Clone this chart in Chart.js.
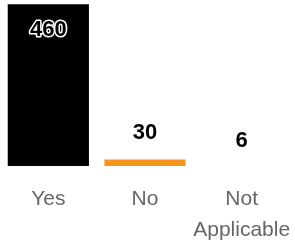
<!DOCTYPE html>
<html>
<head>
<meta charset="utf-8">
<script src="https://cdn.jsdelivr.net/npm/chart.js@4/dist/chart.umd.min.js"></script>
<style>
  html, body { margin: 0; padding: 0; background: #fff; }
  #wrap { width: 295px; height: 241px; }
</style>
</head>
<body>
<div id="wrap"><canvas id="answersChart"></canvas></div>
<script>
const categories = ["Yes", "No", ["Not", "Applicable"]];
const answerCounts = [460, 30, 6];
const barColors = ["#000000", "#f7941d", "#a6a6a6"];

// value labels drawn on top of / inside the bars
const valueLabels = {
    id: "valueLabels",
    afterDatasetsDraw(chart) {
        const ctx = chart.ctx;
        const area = chart.chartArea;
        const meta = chart.getDatasetMeta(0);
        const maxVal = Math.max(...answerCounts);
        ctx.save();
        ctx.font = "bold 22px 'Liberation Sans', Arial, sans-serif";
        ctx.textAlign = "center";
        ctx.textBaseline = "middle";
        meta.data.forEach((bar, i) => {
            const val = answerCounts[i];
            const top = Math.min(bar.y, area.bottom);
            if (val === maxVal) {
                const y = top + 26;
                ctx.lineWidth = 3;
                ctx.lineJoin = "round";
                ctx.strokeStyle = "#ffffff";
                ctx.strokeText(val, bar.x, y);
                ctx.fillStyle = "#000000";
                ctx.fillText(val, bar.x, y);
            } else {
                ctx.fillStyle = "#000000";
                ctx.fillText(val, bar.x, top - (val < 12 ? 25 : 27));
            }
        });
        ctx.restore();
    }
};

new Chart(document.getElementById("answersChart"), {
    type: "bar",
    data: {
        labels: categories,
        datasets: [
            {
                data: answerCounts,
                backgroundColor: barColors,
                borderWidth: 0,
                barPercentage: 1,
                categoryPercentage: 0.84,
            },
        ],
    },
    options: {
        responsive: true,
        maintainAspectRatio: false,
        animation: false,
        layout: {
            autoPadding: false,
            padding: { left: -5, right: 5, top: 0, bottom: 0 },
        },
        plugins: {
            legend: { display: false },
            tooltip: { enabled: false },
        },
        scales: {
            y: {
                display: false,
                min: 12,
                max: 472,
            },
            x: {
                grid: { display: false, drawTicks: false },
                border: { display: false },
                ticks: {
                    color: "#666666",
                    padding: 17,
                    maxRotation: 0,
                    autoSkip: false,
                    font: { family: "'Liberation Sans', Arial, sans-serif", size: 21, lineHeight: 1.5 },
                },
                afterFit(scale) {
                    scale.height = 75;
                    scale.paddingLeft = 0;
                    scale.paddingRight = 0;
                },
            },
        },
    },
    plugins: [valueLabels],
});
</script>
</body>
</html>
